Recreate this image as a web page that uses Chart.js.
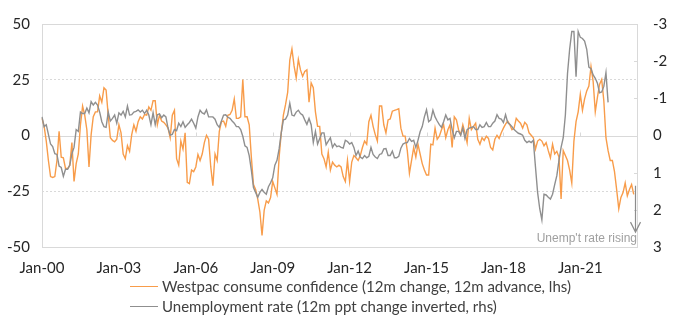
<!DOCTYPE html>
<html>
<head>
<meta charset="utf-8">
<script src="https://cdn.jsdelivr.net/npm/chart.js@4/dist/chart.umd.min.js"></script>
<style>
  html, body { margin: 0; padding: 0; background: #fff; }
  #wrap { position: relative; width: 679px; height: 325px; overflow: hidden; }
  #chart { position: absolute; left: 0; top: 0; }
  #legend { position: absolute; left: 130px; top: 276px; font-family: Lato, sans-serif; font-size: 15px; color: #404040; }
  #legend .row { display: flex; align-items: center; height: 20px; }
  #legend .swatch { width: 28px; height: 0; border-top: 1.5px solid; margin-right: 4px; }
</style>
</head>
<body>
<div id="wrap">
  <canvas id="chart" width="679" height="325"></canvas>
  <div id="legend"></div>
</div>
<script>
// Monthly series starting Jan-2000
const startYear = 2000;
const monthCount = 280;

const seriesNames = [
  'Westpac consume confidence (12m change, 12m advance, lhs)',
  'Unemployment rate (12m ppt change inverted, rhs)'
];

// Westpac consumer confidence, 12m % change, shifted 12 months forward (lhs)
const confidence = [
  7.7, 4.1, -2.5, -11.2, -18.4, -18.8, -18.4, -11.2, 1.9, -9.7, -10.0, -14.8,
  -14.8, -13.3, -3.2, -20.6, -12.6, -8.3, 4.8, 13.2, 9.1, 2.6, -14.1, 0.4,
  8.4, 10.6, 10.6, 17.8, 14.9, 21.4, 20.4, 9.1, -1.0, -2.2, -2.8, -1.7,
  4.8, 1.2, -8.3, -10.4, -4.6, -7.1, 0.4, 4.8, 1.9, 6.2, 8.4, 7.4,
  9.4, 9.1, 12.8, 11.3, 15.6, 15.6, 4.8, 9.1, 6.5, 5.9, 4.8, 3.3,
  -1.0, 9.1, 11.3, -10.4, -13.3, -2.5, -6.1, 1.2, -21.0, -21.6, -15.5, -16.2,
  -14.1, -8.5, -11.2, -8.3, -3.2, 0.1, -1.7, -14.1, -22.5, -8.3, -11.2, 1.9,
  6.2, 6.5, 4.1, 9.1, 9.4, 11.3, 16.4, 7.7, 7.7, 8.4, 25.1, 8.4,
  8.4, 4.8, -9.7, -22.0, -24.2, -28.5, -34.3, -44.8, -33.6, -29.3, -30.3, -27.8,
  -20.6, -23.5, -26.4, -9.7, 1.2, 9.1, 13.8, 19.3, 33.8, 38.8, 31.2, 25.8,
  34.1, 29.4, 26.5, 28.7, 29.4, 14.9, 23.6, 21.4, 10.6, 4.1, 4.1, -8.3,
  -10.4, -14.1, -7.5, -15.5, -11.9, -13.3, -14.1, -13.3, -14.1, -18.4, -20.6, -11.2,
  -20.6, -11.9, -9.0, -10.0, -11.2, -9.0, -5.4, -2.5, -3.9, 6.2, 9.1, 4.1,
  0.4, -2.5, 13.2, 13.2, 4.8, 1.2, 7.0, 7.4, 10.9, 11.3, 11.6, 12.0,
  3.3, -0.3, -0.3, -6.8, -17.0, -11.2, -5.4, -9.7, -3.9, -8.3, -12.6, -15.5,
  -17.7, -17.7, -3.9, -4.2, 3.3, -1.7, -0.3, 2.6, 4.8, -1.0, 2.6, 4.8,
  -5.4, 8.4, 7.0, 2.6, 0.4, 4.8, 1.2, -3.2, 7.7, 2.6, 4.1, 5.5,
  -1.7, -3.9, -1.0, -2.2, -0.3, -1.3, -5.4, -6.5, -1.7, 0.1, -1.3, 1.2,
  3.3, 5.1, 6.5, 4.8, 2.6, 3.3, 7.7, 6.5, 5.5, 3.3, 5.9, 4.8,
  1.2, 0.1, -1.0, -6.1, -2.5, -1.7, -2.5, -4.6, -3.2, -6.8, -10.0, -3.9,
  -8.3, -7.1, -9.7, -28.5, -6.8, -9.0, -11.2, -15.5, -21.3, -2.5, 6.2, 10.6,
  18.5, 11.3, 16.4, 20.0, 22.2, 30.9, 24.3, 10.6, 17.1, 22.9, 25.1, 15.6,
  -1.0, -6.8, -11.2, -11.2, -16.2, -24.2, -32.9, -27.8, -25.6, -21.3, -27.1, -24.2,
  -22.0, -26.4
];

// Unemployment rate, 12m change in ppt, plotted on an inverted rhs axis
const unemployment = [
  -0.50, -0.24, -0.29, -0.03, 0.23, 0.30, 0.49, 0.51, 0.82, 0.86, 1.10, 0.91,
  0.91, 0.80, 0.49, 0.32, -0.16, -0.11, -0.63, -0.59, -0.59, -0.74, -0.61, -0.91,
  -0.82, -0.89, -0.82, -0.63, -0.37, -0.24, -0.22, -0.63, -0.39, -0.46, -0.55, -0.33,
  -0.61, -0.55, -0.65, -0.50, -0.79, -0.55, -0.56, -0.63, -0.65, -0.69, -0.63, -0.68,
  -0.59, -0.68, -0.55, -0.29, -0.61, -0.29, -0.56, -0.58, -0.48, -0.55, -0.50, -0.20,
  -0.01, -0.03, -0.16, -0.13, -0.33, -0.24, -0.37, -0.22, -0.29, -0.35, -0.44, -0.33,
  -0.20, -0.50, -0.68, -0.61, -0.58, -0.69, -0.50, -0.50, -0.50, -0.44, -0.29, -0.22,
  -0.39, -0.55, -0.56, -0.49, -0.46, -0.39, -0.33, -0.24, -0.24, -0.16, 0.02, 0.28,
  0.32, 0.54, 0.93, 1.40, 1.53, 1.66, 1.53, 1.45, 1.53, 1.58, 1.38, 1.27,
  1.14, 0.80, 0.67, 0.36, -0.07, -0.42, -0.44, -0.55, -0.87, -0.55, -0.53, -0.63,
  -0.68, -0.59, -0.55, -0.42, -0.30, -0.46, -0.29, 0.19, -0.11, 0.23, 0.08, -0.07,
  -0.07, 0.25, 0.15, 0.06, 0.32, 0.22, 0.30, 0.28, 0.32, 0.34, 0.13, 0.16,
  0.23, 0.19, 0.32, 0.54, 0.42, 0.58, 0.62, 0.54, 0.60, 0.56, 0.32, 0.51,
  0.58, 0.62, 0.51, 0.49, 0.36, 0.35, 0.54, 0.54, 0.42, 0.60, 0.60, 0.56,
  0.34, 0.23, 0.20, 0.19, 0.08, 0.16, 0.13, 0.32, 0.13, -0.10, -0.24, -0.50,
  -0.69, -0.37, -0.42, -0.68, -0.50, -0.39, -0.29, -0.22, -0.37, -0.55, -0.42, -0.46,
  -0.16, 0.06, -0.11, -0.11, -0.01, -0.20, 0.08, -0.16, -0.20, -0.22, -0.24, -0.16,
  -0.16, -0.29, -0.22, -0.24, -0.35, -0.24, -0.24, -0.33, -0.39, -0.56, -0.46, -0.44,
  -0.35, -0.56, -0.35, -0.30, -0.24, -0.16, -0.11, -0.06, -0.04, -0.01, 0.13, 0.19,
  0.15, 0.19, 0.13, 0.84, 1.53, 1.97, 2.27, 1.58, 1.60, 1.66, 1.71, 1.58,
  1.32, 1.08, 0.67, 0.32, 0.06, -0.55, -1.67, -2.32, -2.80, -2.80, -1.58, -2.80,
  -2.64, -2.61, -2.54, -2.32, -1.84, -1.80, -1.63, -1.54, -1.41, -1.15, -1.17, -1.32,
  -1.69, -0.89
];

// Axis tick labels (one every 36 months)
const xTickLabels = ['Jan-00', 'Jan-03', 'Jan-06', 'Jan-09', 'Jan-12', 'Jan-15', 'Jan-18', 'Jan-21'];
const xTickStep = 36;
const leftTicks = [-50, -25, 0, 25, 50];
const rightTicks = [-3, -2, -1, 0, 1, 2, 3];

// Annotation: direction of a rising unemployment rate on the rhs axis
const noteText = "Unemp't rate rising";
const noteArrow = { month: 277.5, from: 1.35, to: 2.6 };

const ORANGE = '#F89C4A';
const GREY = '#8F8F8F';
const GRID = '#D9D9D9';
const TEXT = '#262626';

const monthNames = ['Jan','Feb','Mar','Apr','May','Jun','Jul','Aug','Sep','Oct','Nov','Dec'];
const monthLabels = [];
for (let i = 0; i < monthCount; i++) {
  const y = startYear + Math.floor(i / 12);
  monthLabels.push(monthNames[i % 12] + '-' + String(y % 100).padStart(2, '0'));
}

// Frame, zero line, small tick marks and the rising-unemployment note
const framePlugin = {
  id: 'frame',
  beforeDatasetsDraw(chart) {
    const { ctx, chartArea: a, scales } = chart;
    ctx.save();
    ctx.strokeStyle = GRID;
    ctx.lineWidth = 1;
    ctx.setLineDash([]);
    ctx.strokeRect(Math.round(a.left) + 0.5, Math.round(a.top) + 0.5,
      Math.round(a.right - a.left) - 1, Math.round(a.bottom - a.top));
    const y0 = Math.round(scales.y.getPixelForValue(0)) + 0.5;
    ctx.beginPath();
    ctx.moveTo(a.left, y0);
    ctx.lineTo(a.right, y0);
    ctx.stroke();
    // year ticks on the zero line, every three years
    ctx.beginPath();
    for (let m = xTickStep; m < monthCount; m += xTickStep) {
      const x = Math.round(scales.x.getPixelForValue(m)) + 0.5;
      ctx.moveTo(x, y0);
      ctx.lineTo(x, y0 - 4);
    }
    // inner ticks on the rhs axis
    rightTicks.forEach(v => {
      if (Math.abs(v) === 3 || v === 0) return;
      const y = Math.round(scales.y2.getPixelForValue(v)) + 0.5;
      ctx.moveTo(a.right - 4, y);
      ctx.lineTo(a.right, y);
    });
    ctx.stroke();
    ctx.restore();
  },
  afterDatasetsDraw(chart) {
    const { ctx, chartArea: a, scales } = chart;
    ctx.save();
    const ax = Math.round(scales.x.getPixelForValue(noteArrow.month)) + 0.5;
    const yTop = scales.y2.getPixelForValue(noteArrow.from);
    const yEnd = scales.y2.getPixelForValue(noteArrow.to);
    ctx.strokeStyle = '#8C8C8C';
    ctx.lineWidth = 1.2;
    ctx.beginPath();
    ctx.moveTo(ax, yTop);
    ctx.lineTo(ax, yEnd);
    ctx.moveTo(ax - 5, yEnd - 10);
    ctx.lineTo(ax, yEnd);
    ctx.lineTo(ax + 5, yEnd - 10);
    ctx.stroke();
    ctx.fillStyle = '#A0A0A0';
    ctx.font = '12px "Liberation Sans", Arial, sans-serif';
    ctx.textAlign = 'right';
    ctx.textBaseline = 'alphabetic';
    ctx.fillText(noteText, a.right - 1, a.bottom - 5);
    ctx.restore();
  }
};

new Chart(document.getElementById('chart'), {
  type: 'line',
  data: {
    labels: monthLabels,
    datasets: [
      {
        label: seriesNames[0],
        data: confidence,
        yAxisID: 'y',
        borderColor: ORANGE,
        borderWidth: 1.4,
        pointRadius: 0,
        tension: 0,
        order: 2
      },
      {
        label: seriesNames[1],
        data: unemployment,
        yAxisID: 'y2',
        borderColor: GREY,
        borderWidth: 1.4,
        pointRadius: 0,
        tension: 0,
        order: 1
      }
    ]
  },
  options: {
    responsive: false,
    animation: false,
    events: [],
    layout: { padding: { top: 16, left: 0, right: 0, bottom: 0 } },
    plugins: { legend: { display: false }, tooltip: { enabled: false } },
    scales: {
      x: {
        type: 'category',
        display: false,
        offset: false
      },
      // label axis in months, sharing the month positions of the data axis
      xl: {
        type: 'linear',
        position: 'bottom',
        min: 0,
        max: monthCount - 1,
        afterBuildTicks(s) { s.ticks = xTickLabels.map((_, i) => ({ value: i * xTickStep })); },
        grid: { display: false, drawTicks: false },
        border: { display: false },
        afterFit(s) { s.height = 78; },
        ticks: {
          autoSkip: false,
          maxRotation: 0,
          padding: 12,
          color: TEXT,
          font: { family: 'Lato', size: 15 },
          callback: (v) => xTickLabels[Math.round(v / xTickStep)] || ''
        }
      },
      y: {
        position: 'left',
        min: leftTicks[0],
        max: leftTicks[leftTicks.length - 1],
        afterBuildTicks(s) { s.ticks = leftTicks.map(v => ({ value: v })); },
        afterFit(s) { s.width = 42; },
        grid: {
          drawTicks: false,
          color: (c) => (Math.abs(c.tick.value) === 25 ? GRID : 'rgba(0,0,0,0)'),
          lineWidth: 1
        },
        border: { display: false, dash: [2, 2] },
        ticks: {
          padding: 12,
          color: TEXT,
          font: { family: 'Lato', size: 15 }
        }
      },
      y2: {
        position: 'right',
        reverse: true,
        min: rightTicks[0],
        max: rightTicks[rightTicks.length - 1],
        afterBuildTicks(s) { s.ticks = rightTicks.map(v => ({ value: v })); },
        afterFit(s) { s.width = 41; },
        grid: { display: false, drawTicks: false },
        border: { display: false },
        ticks: {
          padding: 15,
          color: TEXT,
          font: { family: 'Lato', size: 15 }
        }
      }
    }
  },
  plugins: [framePlugin]
});

// Legend below the plot, one series per row
const legendEl = document.getElementById('legend');
[[seriesNames[0], ORANGE], [seriesNames[1], GREY]].forEach(([name, col]) => {
  const row = document.createElement('div');
  row.className = 'row';
  const sw = document.createElement('span');
  sw.className = 'swatch';
  sw.style.borderTopColor = col;
  const tx = document.createElement('span');
  tx.textContent = name;
  row.appendChild(sw);
  row.appendChild(tx);
  legendEl.appendChild(row);
});
</script>
</body>
</html>
